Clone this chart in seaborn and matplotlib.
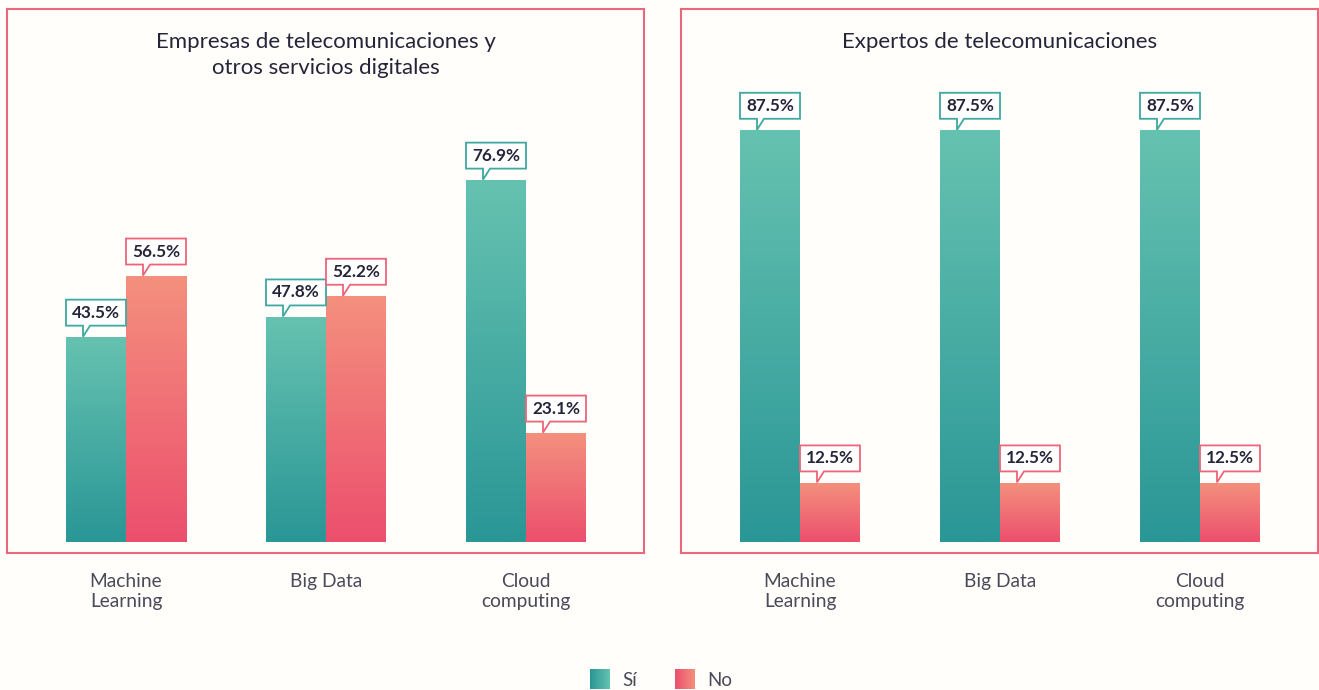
import numpy as np
import pandas as pd
import seaborn as sns
import matplotlib.pyplot as plt
from matplotlib.colors import LinearSegmentedColormap
from matplotlib.patches import Polygon

# Data
categories = ["Machine\nLearning", "Big Data", "Cloud\ncomputing"]
answers = ["Sí", "No"]
empresas_si = [43.5, 47.8, 76.9]
empresas_no = [56.5, 52.2, 23.1]
expertos_si = [87.5, 87.5, 87.5]
expertos_no = [12.5, 12.5, 12.5]
titles = ["Empresas de telecomunicaciones y\notros servicios digitales",
          "Expertos de telecomunicaciones"]

# Colours (bottom, top)
grad = {"Sí": ("#2a9696", "#66c2b0"), "No": ("#ec4f6d", "#f4907e")}
edge = {"Sí": "#3ea8a1", "No": "#ee6479"}
frame_col = "#e8687e"
bg = "#fffefb"
text_dark = "#25253a"
text_tick = "#4a4a58"

sns.set_theme(style="white")
plt.rcParams["font.family"] = ["Lato", "DejaVu Sans"]

W, H = 1319, 690
fig = plt.figure(figsize=(W / 100, H / 100), dpi=100, facecolor=bg)

ax_px = [(7, 9, 637, 544), (681, 9, 637, 544)]
XLIM = (-0.595, 2.59)
YLIM = (-2.3, 113.4)


def make_df(si, no):
    rows = []
    for c, s, n in zip(categories, si, no):
        rows.append({"cat": c, "resp": "Sí", "val": s})
        rows.append({"cat": c, "resp": "No", "val": n})
    return pd.DataFrame(rows)


def draw_panel(ax, df, title, axw, axh):
    sns.barplot(data=df, x="cat", y="val", hue="resp", hue_order=answers,
                order=categories, palette=[grad["Sí"][1], grad["No"][1]],
                width=0.6, ax=ax, legend=False, errorbar=None)
    xpp = (XLIM[1] - XLIM[0]) / axw
    ypp = (YLIM[1] - YLIM[0]) / axh
    for cont, resp in zip(ax.containers, answers):
        cmap = LinearSegmentedColormap.from_list(resp, list(grad[resp]))
        for bar in cont:
            x0, w, h = bar.get_x(), bar.get_width(), bar.get_height()
            bar.set_facecolor("none")
            bar.set_edgecolor("none")
            g = np.linspace(0, 1, 256).reshape(-1, 1)
            ax.imshow(g, cmap=cmap, extent=[x0, x0 + w, 0, h], origin="lower",
                      aspect="auto", zorder=2)
            # callout
            cx = x0 + w / 2
            bot = h + 12 * ypp
            top = bot + 26 * ypp
            left, right = x0, x0 + w
            pts = [(left, bot), (cx - 13 * xpp, bot), (cx - 13 * xpp, h + 1 * ypp),
                   (cx - 6 * xpp, bot), (right, bot), (right, top), (left, top)]
            ax.add_patch(Polygon(pts, closed=True, facecolor="white",
                                 edgecolor=edge[resp], lw=1.3, zorder=4,
                                 clip_on=False, joinstyle="miter"))
            ax.text(cx, (bot + top) / 2, f"{h:.1f}%", ha="center", va="center",
                    fontsize=12.3, fontweight="bold", color=text_dark, zorder=5)
    ax.set_xlim(*XLIM)
    ax.set_ylim(*YLIM)
    ax.set_facecolor(bg)
    ax.set_yticks([])
    ax.set_xticks(range(len(categories)))
    ax.set_xticklabels(categories, fontsize=13.8, color=text_tick, linespacing=1.2)
    ax.tick_params(axis="x", length=0, pad=14.5)
    ax.set_xlabel("")
    ax.set_ylabel("")
    for s in ax.spines.values():
        s.set_visible(True)
        s.set_color(frame_col)
        s.set_linewidth(1.5)
    # title near the frame top
    ax.text(0.5, 1 - 23 / axh, title, transform=ax.transAxes,
            ha="center", va="top", fontsize=16, color=text_dark, linespacing=1.35)


datasets = [make_df(empresas_si, empresas_no), make_df(expertos_si, expertos_no)]
for (x, y, w, h), df, t in zip(ax_px, datasets, titles):
    ax = fig.add_axes([x / W, 1 - (y + h) / H, w / W, h / H])
    draw_panel(ax, df, t, w, h)

# Legend with gradient squares
for resp, sx in zip(answers, [590, 675]):
    lax = fig.add_axes([sx / W, 1 - 689 / H, 20 / W, 20 / H])
    cmap = LinearSegmentedColormap.from_list(resp + "_l", list(grad[resp]))
    lax.imshow(np.linspace(0, 1, 64).reshape(1, -1), cmap=cmap, aspect="auto")
    lax.axis("off")
    fig.text((sx + 32) / W, 1 - 680 / H, resp, ha="left", va="center",
             fontsize=13.5, color=text_tick)

fig.savefig("out.png", dpi=100, facecolor=bg)
